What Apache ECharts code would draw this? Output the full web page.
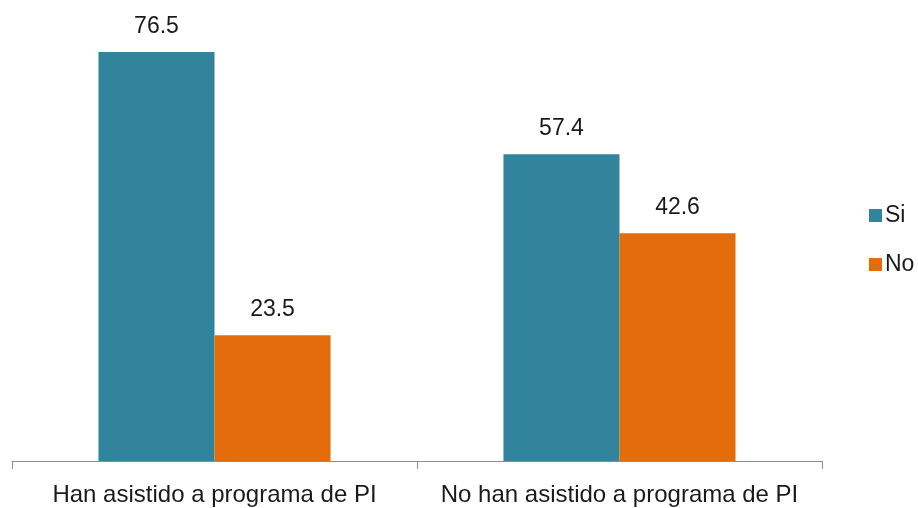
<!DOCTYPE html>
<html>
<head>
<meta charset="utf-8">
<script src="https://cdn.jsdelivr.net/npm/echarts@6/dist/echarts.min.js"></script>
<style>html,body{margin:0;padding:0;background:#fff;}#c{width:918px;height:508px;}</style>
</head>
<body>
<div id="c"></div>
<script>
var categories = ["Han asistido a programa de PI", "No han asistido a programa de PI"];
var seriesNames = ["Si", "No"];
var siValues = [76.5, 57.4];
var noValues = [23.5, 42.6];

var FONT = "Liberation Sans";
var chart = echarts.init(document.getElementById('c'), null, {renderer: 'canvas'});
var labelStyle = {show: true, position: 'top', distance: 14, color: '#1a1a1a', fontFamily: FONT, fontSize: 23};
chart.setOption({
  animation: false,
  color: ['#31849B', '#E46C0A'],
  legend: {
    orient: 'vertical', left: 864, top: 199,
    itemWidth: 13, itemHeight: 13, itemGap: 26,
    icon: 'rect',
    textStyle: {fontFamily: FONT, fontSize: 23, color: '#1a1a1a', padding: [0,0,0,-2]},
    data: seriesNames
  },
  grid: {left: 12, right: 96, top: 33.3, bottom: 47, containLabel: false},
  xAxis: {
    type: 'category', data: categories,
    axisLine: {lineStyle: {color: '#8c8c8c', width: 1}},
    axisTick: {show: true, length: 8, lineStyle: {color: '#8c8c8c'}},
    axisLabel: {interval: 0, fontFamily: FONT, fontSize: 24, color: '#1a1a1a', margin: 22}
  },
  yAxis: {type: 'value', min: 0, max: 80, show: false, splitLine: {show: false}},
  series: [
    {name: seriesNames[0], type: 'bar', data: siValues, barGap: '0%', barCategoryGap: '42.7%', label: labelStyle},
    {name: seriesNames[1], type: 'bar', data: noValues, barGap: '0%', barCategoryGap: '42.7%', label: labelStyle}
  ]
});
</script>
</body>
</html>
